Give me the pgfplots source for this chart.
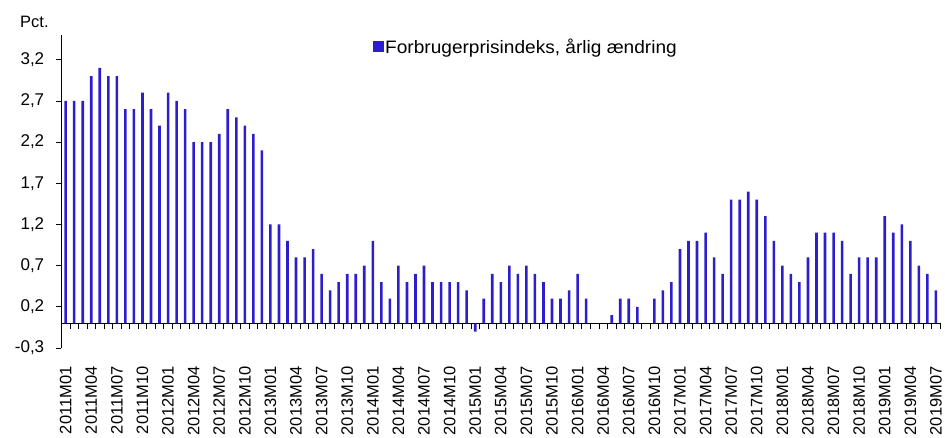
\documentclass[border=0pt]{standalone}
\usepackage{fontspec}
\setmainfont{Liberation Sans}
\newfontfamily\legfont[FakeStretch=1.06]{Liberation Sans}
\usepackage{pgfplots}
\usepackage{pgfplotstable}
\pgfplotsset{compat=1.18}
\definecolor{barblue}{RGB}{45,30,205}
\pgfplotstableread{
x y
0 2.7
1 2.7
2 2.7
3 3.0
4 3.1
5 3.0
6 3.0
7 2.6
8 2.6
9 2.8
10 2.6
11 2.4
12 2.8
13 2.7
14 2.6
15 2.2
16 2.2
17 2.2
18 2.3
19 2.6
20 2.5
21 2.4
22 2.3
23 2.1
24 1.2
25 1.2
26 1.0
27 0.8
28 0.8
29 0.9
30 0.6
31 0.4
32 0.5
33 0.6
34 0.6
35 0.7
36 1.0
37 0.5
38 0.3
39 0.7
40 0.5
41 0.6
42 0.7
43 0.5
44 0.5
45 0.5
46 0.5
47 0.4
48 -0.1
49 0.3
50 0.6
51 0.5
52 0.7
53 0.6
54 0.7
55 0.6
56 0.5
57 0.3
58 0.3
59 0.4
60 0.6
61 0.3
62 0.0
63 0.0
64 0.1
65 0.3
66 0.3
67 0.2
68 0.0
69 0.3
70 0.4
71 0.5
72 0.9
73 1.0
74 1.0
75 1.1
76 0.8
77 0.6
78 1.5
79 1.5
80 1.6
81 1.5
82 1.3
83 1.0
84 0.7
85 0.6
86 0.5
87 0.8
88 1.1
89 1.1
90 1.1
91 1.0
92 0.6
93 0.8
94 0.8
95 0.8
96 1.3
97 1.1
98 1.2
99 1.0
100 0.7
101 0.6
102 0.4
}\cpidata
\begin{document}
\begin{tikzpicture}
\path[use as bounding box] (-61.4pt,-89pt) rectangle (883.6pt,348pt);
\begin{axis}[
  at={(0,0)}, anchor=south west,
  scale only axis,
  width=878.8pt, height=313pt,
  xmin=-0.5, xmax=102.5,
  ymin=-0.3, ymax=3.5,
  axis x line*=middle,
  axis y line*=left,
  ytick={-0.3,0.2,0.7,1.2,1.7,2.2,2.7,3.2},
  yticklabel style={/pgf/number format/fixed, /pgf/number format/fixed zerofill, /pgf/number format/precision=1, /pgf/number format/use comma, /pgf/number format/assume math mode=true,
    font=\fontsize{17pt}{20pt}\selectfont, inner sep=0pt, xshift=-12pt},
  xtick={0,3,...,102},
  xticklabels={2011M01,2011M04,2011M07,2011M10,2012M01,2012M04,2012M07,2012M10,2013M01,2013M04,2013M07,2013M10,2014M01,2014M04,2014M07,2014M10,2015M01,2015M04,2015M07,2015M10,2016M01,2016M04,2016M07,2016M10,2017M01,2017M04,2017M07,2017M10,2018M01,2018M04,2018M07,2018M10,2019M01,2019M04,2019M07},
  xticklabel style={rotate=90, anchor=east, inner sep=0pt, xshift=-38pt, font=\fontsize{16.5pt}{19pt}\selectfont},
  minor xtick={-0.5,0.5,...,102.5},
  major x tick style={draw=none},
  minor x tick style={black, line width=0.8pt},
  major y tick style={black, line width=0.8pt},
  tick align=outside,
  major tick length=5pt,
  minor tick length=6pt,
  axis line style={black, line width=0.9pt},
  ybar, bar width=2.6pt,
  legend style={at={(rel axis cs:0.3540,0.962)}, anchor=west, draw=none, fill=none, inner sep=0pt,
    font=\legfont\fontsize{18pt}{21pt}\selectfont, legend cell align=left,
    nodes={inner sep=1.5pt}},
  legend image code/.code={\fill[barblue] (0pt,-5.5pt) rectangle (11pt,5.5pt);},
]
\addplot[fill=barblue, draw=none] table[x=x, y=y] {\cpidata};
\addlegendentry{Forbrugerprisindeks, årlig ændring}
\end{axis}
\node[anchor=west, inner sep=0pt, font=\fontsize{16.5pt}{19pt}\selectfont] at (-41.4pt,326.5pt) {Pct.};
\end{tikzpicture}
\end{document}
